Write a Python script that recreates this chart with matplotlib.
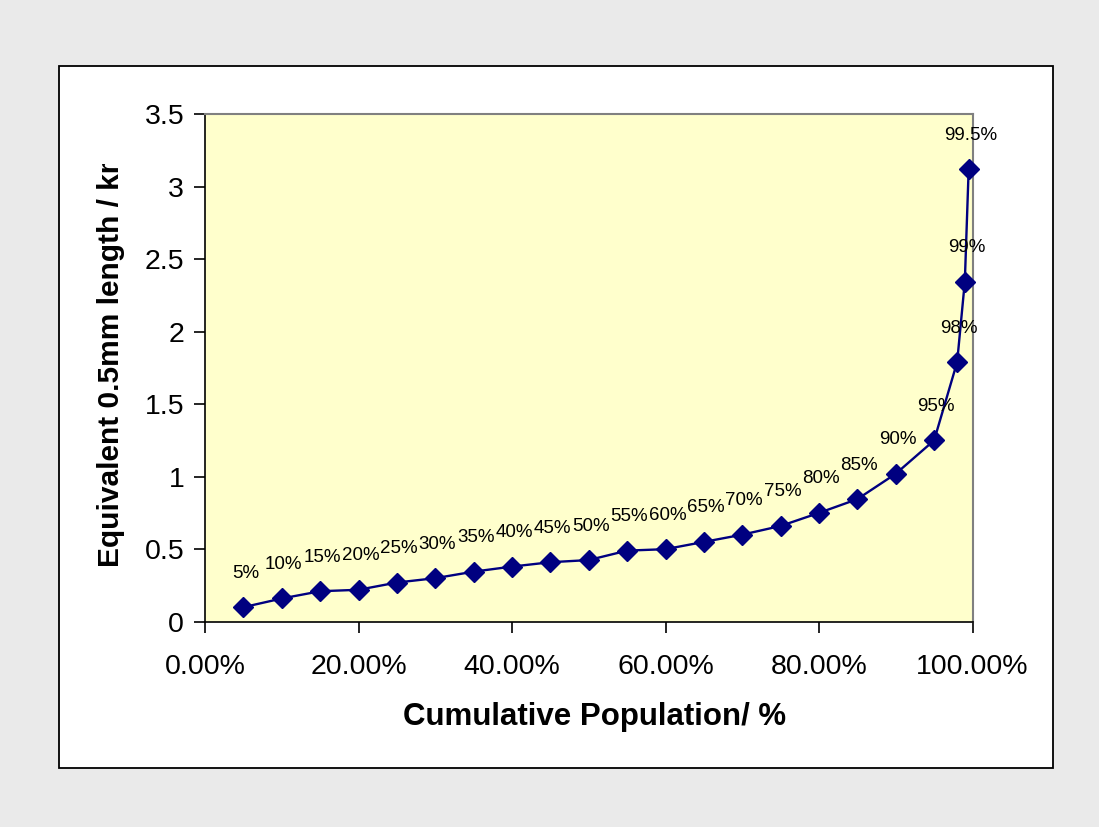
"""Cumulative population vs equivalent 0.5mm length."""

import matplotlib
matplotlib.use("Agg")

import matplotlib.pyplot as plt
from matplotlib.patches import Rectangle
from matplotlib.transforms import Bbox, TransformedBbox
from matplotlib.ticker import FuncFormatter, MultipleLocator


population = [0.05, 0.10, 0.15, 0.20, 0.25, 0.30, 0.35, 0.40, 0.45, 0.50,
              0.55, 0.60, 0.65, 0.70, 0.75, 0.80, 0.85, 0.90, 0.95, 0.98,
              0.99, 0.995]
length_km = [0.10, 0.16, 0.21, 0.22, 0.27, 0.30, 0.345, 0.38, 0.41, 0.425,
             0.49, 0.50, 0.55, 0.60, 0.66, 0.75, 0.845, 1.02, 1.25, 1.79,
             2.345, 3.12]
point_labels = ["5%", "10%", "15%", "20%", "25%", "30%", "35%", "40%", "45%",
                "50%", "55%", "60%", "65%", "70%", "75%", "80%", "85%", "90%",
                "95%", "98%", "99%", "99.5%"]

plt.rcParams["font.family"] = ["Liberation Sans", "DejaVu Sans"]

W, H = 1099, 827
fig = plt.figure(figsize=(W / 100, H / 100), dpi=100, facecolor="#EAEAEA")

# white chart frame
fig.patches.append(Rectangle((59 / W, 1 - 768 / H), (1053 - 59) / W, (768 - 66) / H,
                             transform=fig.transFigure, facecolor="white",
                             edgecolor="black", linewidth=1.3, zorder=-5))

ax = fig.add_axes([205 / W, 1 - 621.7 / H, (972.5 - 205) / W, (621.7 - 114) / H])
ax.set_facecolor("#FFFFCC")

ax.plot(population, length_km, color="#000080", linewidth=1.7, marker="D",
        markersize=10, markeredgecolor="#000080", markerfacecolor="#000080",
        clip_on=False, zorder=3)

for x, y, lab in zip(population, length_km, point_labels):
    ax.annotate(lab, (x, y), xytext=(2, 34), textcoords="offset pixels",
                ha="center", va="center", fontsize=13.5, color="black",
                annotation_clip=False, zorder=4)

ax.set_xlim(0, 1)
ax.set_ylim(0, 3.5)
ax.xaxis.set_major_locator(MultipleLocator(0.2))
ax.yaxis.set_major_locator(MultipleLocator(0.5))
ax.xaxis.set_major_formatter(FuncFormatter(lambda v, p: f"{v * 100:.2f}%"))
ax.yaxis.set_major_formatter(FuncFormatter(lambda v, p: f"{v:g}"))
ax.tick_params(axis="both", direction="out", length=8, width=1.2,
               color="black", labelsize=20.5)
ax.tick_params(axis="x", pad=15)
ax.tick_params(axis="y", pad=7)

for side in ["top", "right"]:
    ax.spines[side].set_color("#808080")
    ax.spines[side].set_linewidth(1.5)
for side in ["left", "bottom"]:
    ax.spines[side].set_color("black")
    ax.spines[side].set_linewidth(1.2)

fig.text(595 / W, 1 - 717 / H, "Cumulative Population/ %", ha="center", va="center",
         fontsize=22.5, fontweight="bold")

# y label is cut off at the top, as in the original
ylab = fig.text(111 / W, 1 - 567 / H, "Equivalent 0.5mm length / km", rotation=90,
                ha="center", va="bottom", fontsize=21.5, fontweight="bold")
ylab.set_clip_box(TransformedBbox(Bbox([[0, 0], [1, 1 - 164 / H]]), fig.transFigure))
ylab.set_clip_on(True)

fig.savefig("out.png", dpi=100, facecolor=fig.get_facecolor())
